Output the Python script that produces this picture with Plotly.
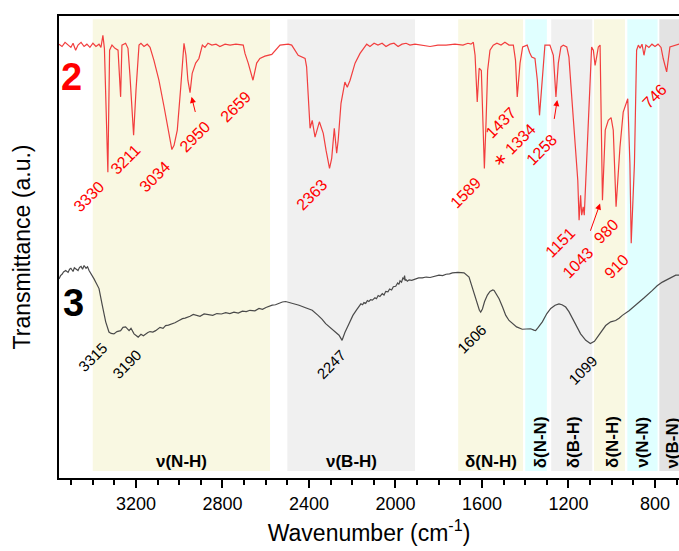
import plotly.graph_objects as go

# ---------------- spectra (wavenumber in cm-1, transmittance in a.u.) ----------------
red_wn = [3556, 3542, 3528, 3514, 3501, 3491, 3479, 3468, 3454, 3440, 3427, 3413, 3399, 3385,
          3371, 3362, 3353, 3346, 3330, 3322, 3311, 3297, 3283, 3271, 3265, 3248, 3237, 3228,
          3211, 3200, 3186, 3177, 3163, 3148, 3135, 3117, 3094, 3070, 3047, 3034, 3024, 3009,
          2993, 2978, 2969, 2960, 2950, 2940, 2924, 2909, 2893, 2881, 2867, 2849, 2830, 2812,
          2788, 2765, 2738, 2704, 2696, 2681, 2659, 2642, 2627, 2604, 2572, 2549, 2534, 2496,
          2480, 2450, 2418, 2411, 2403, 2395, 2385, 2372, 2352, 2334, 2321, 2305, 2295, 2283,
          2272, 2265, 2252, 2241, 2234, 2223, 2210, 2187, 2164, 2133, 2118, 2099, 2081, 2062,
          2044, 2025, 2007, 1988, 1970, 1951, 1933, 1910, 1877, 1840, 1804, 1766, 1725, 1688,
          1665, 1651, 1640, 1632, 1622, 1613, 1603, 1595, 1589, 1581, 1574, 1563, 1548, 1531,
          1512, 1494, 1475, 1455, 1445, 1437, 1424, 1412, 1391, 1380, 1370, 1355, 1344, 1334,
          1321, 1309, 1286, 1270, 1258, 1247, 1235, 1224, 1208, 1198, 1185, 1170, 1157, 1151,
          1144, 1139, 1132, 1127, 1116, 1105, 1093, 1085, 1077, 1070, 1062, 1054, 1048, 1043,
          1030, 1016, 1003, 993, 980, 962, 947, 926, 916, 910, 895, 885, 877, 869, 860, 851,
          842, 828, 814, 800, 786, 772, 762, 746, 731, 708, 689, 675]
red_t = [93.9, 93.4, 94.3, 93.7, 93.2, 94.1, 92.6, 93.7, 94.3, 93.4, 93.9, 93.2, 94.1, 93.4,
         93.9, 93.2, 95.8, 93.0, 66.2, 92.6, 93.7, 93.0, 92.6, 82.5, 93.7, 94.1, 93.0, 87.2,
         74.2, 83.9, 93.7, 94.1, 93.4, 93.9, 93.2, 90.4, 86.1, 80.3, 74.6, 71.1, 72.0, 75.3,
         84.6, 94.1, 91.5, 86.1, 83.4, 87.6, 89.8, 90.8, 93.7, 93.2, 94.1, 93.7, 93.9, 93.4,
         93.9, 93.7, 93.9, 93.7, 91.9, 89.8, 86.1, 89.8, 90.8, 91.3, 91.7, 92.9, 93.7, 93.9,
         93.7, 91.5, 90.8, 89.0, 82.5, 75.7, 77.4, 73.8, 77.1, 74.6, 70.9, 67.0, 69.2, 75.7,
         70.3, 73.1, 81.1, 84.3, 85.7, 84.6, 86.1, 89.8, 91.9, 93.9, 93.4, 94.1, 93.7, 94.1,
         93.4, 93.9, 94.1, 93.4, 93.9, 94.1, 93.7, 93.9, 93.7, 93.4, 93.7, 93.7, 93.9, 93.7,
         94.1, 93.9, 94.3, 91.5, 81.4, 88.7, 88.2, 77.4, 67.0, 77.4, 88.2, 92.6, 93.7, 94.1,
         93.7, 94.3, 93.7, 93.7, 90.4, 82.5, 89.8, 93.3, 93.7, 92.1, 91.1, 90.8, 86.1, 78.5,
         86.1, 93.7, 93.7, 91.5, 82.5, 89.8, 93.3, 93.7, 93.3, 91.1, 82.5, 73.1, 64.4, 55.8,
         61.2, 56.9, 58.7, 56.9, 69.5, 82.5, 93.3, 92.6, 89.3, 91.1, 93.3, 93.7, 75.3, 60.1,
         75.3, 77.4, 78.0, 75.3, 58.7, 71.6, 79.2, 82.1, 68.1, 50.8, 68.1, 92.6, 93.7, 93.0,
         93.9, 91.5, 93.7, 93.2, 93.9, 93.4, 93.9, 93.2, 90.8, 87.9, 93.3, 93.7, 93.9, 93.9]

gray_wn = [3556, 3549, 3542, 3535, 3525, 3514, 3507, 3501, 3491, 3485, 3479, 3468, 3461, 3454,
           3447, 3440, 3431, 3424, 3417, 3406, 3394, 3383, 3371, 3356, 3340, 3325, 3315, 3302,
           3288, 3271, 3260, 3248, 3239, 3232, 3223, 3209, 3190, 3177, 3166, 3155, 3145, 3135,
           3122, 3109, 3089, 3075, 3063, 3050, 3038, 3020, 3001, 2985, 2973, 2960, 2950, 2935,
           2924, 2904, 2885, 2862, 2845, 2826, 2805, 2785, 2766, 2747, 2727, 2708, 2690, 2673,
           2650, 2631, 2615, 2599, 2585, 2570, 2555, 2539, 2523, 2508, 2492, 2479, 2446, 2419,
           2385, 2358, 2340, 2323, 2303, 2290, 2277, 2261, 2247, 2234, 2215, 2197, 2180, 2169,
           2160, 2152, 2146, 2138, 2130, 2123, 2115, 2107, 2095, 2088, 2080, 2072, 2061, 2053,
           2045, 2035, 2027, 2018, 2010, 1999, 1990, 1984, 1979, 1972, 1966, 1961, 1958, 1955,
           1951, 1945, 1937, 1925, 1910, 1893, 1876, 1858, 1840, 1820, 1799, 1782, 1766, 1750,
           1737, 1711, 1683, 1660, 1645, 1631, 1620, 1612, 1606, 1598, 1588, 1575, 1563, 1550,
           1544, 1535, 1521, 1505, 1490, 1475, 1460, 1440, 1414, 1395, 1375, 1360, 1352, 1340,
           1321, 1300, 1282, 1262, 1244, 1230, 1213, 1198, 1182, 1163, 1144, 1120, 1099, 1080,
           1059, 1045, 1028, 1005, 982, 966, 951, 920, 889, 850, 812, 790, 766, 735, 704, 689,
           675]
gray_t = [43.1, 43.8, 44.1, 44.6, 44.9, 44.5, 45.2, 45.4, 44.7, 45.5, 45.3, 44.9, 45.6, 45.8,
          45.2, 46.0, 45.4, 45.7, 44.9, 44.1, 43.1, 42.1, 41.0, 37.4, 33.8, 31.6, 31.3, 31.2,
          31.7, 31.9, 32.6, 32.7, 32.2, 31.9, 32.4, 31.2, 30.5, 31.1, 30.8, 31.2, 31.5, 31.7,
          31.6, 31.9, 32.6, 32.4, 33.0, 33.1, 33.3, 33.6, 34.1, 34.5, 34.6, 34.8, 35.0, 35.4,
          35.2, 35.0, 35.5, 35.4, 35.2, 35.6, 35.5, 35.8, 35.6, 35.9, 35.7, 36.1, 36.0, 36.3,
          36.2, 36.7, 36.5, 36.9, 37.2, 37.4, 37.5, 37.8, 38.1, 38.2, 38.0, 37.8, 37.4, 36.9,
          36.3, 35.2, 34.4, 33.4, 32.6, 32.2, 31.6, 30.9, 29.8, 31.5, 33.4, 35.2, 36.4, 37.2,
          37.7, 37.5, 38.0, 37.8, 38.4, 38.2, 38.6, 38.5, 39.0, 38.8, 39.5, 39.3, 39.9, 39.6,
          40.4, 40.3, 40.9, 40.7, 41.4, 41.5, 42.2, 41.9, 42.7, 42.4, 43.3, 43.1, 43.8, 42.8,
          42.9, 42.6, 42.9, 42.8, 43.1, 43.3, 43.3, 43.5, 43.4, 43.7, 43.9, 43.8, 44.1, 44.2,
          44.4, 44.5, 44.4, 43.5, 41.3, 39.2, 37.4, 36.3, 35.9, 36.6, 38.2, 39.6, 40.4, 40.7,
          40.6, 40.0, 38.8, 37.0, 35.2, 34.1, 33.4, 32.7, 32.2, 32.3, 32.3, 32.0, 31.9, 32.6,
          33.8, 35.6, 36.7, 37.4, 37.7, 37.5, 37.0, 36.0, 34.5, 32.8, 31.2, 29.8, 29.1, 29.6,
          30.9, 31.9, 33.0, 33.8, 34.1, 34.6, 35.2, 36.2, 37.4, 39.0, 40.6, 41.6, 42.4, 43.2,
          43.9, 43.9, 44.0]

# ---------------- assignment bands ----------------
band_start = [3400, 2500, 1710, 1400, 1280, 1082, 928, 780]
band_end = [2580, 1910, 1410, 1300, 1090, 939, 788, 600]
band_color = ["#F9F8E2", "#F0F0F0", "#F9F8E2", "#E0FFFF", "#F0F0F0", "#F9F8E2", "#E0FFFF", "#E3E3E3"]
band_label = ["ν(N-H)", "ν(B-H)", "δ(N-H)", "δ(N-N)", "δ(B-H)", "δ(N-H)", "ν(N-N)", "ν(B-N)"]
band_label_x = [2990, 2205, 1560, 1331, 1179, 1000, 855, 717]
band_label_angle = [0, 0, 0, -90, -90, -90, -90, -90]

# ---------------- peak labels ----------------
red_peaks = ["3330", "3211", "3034", "2950", "2659", "2363", "1589", "1437",
             "∗ 1334", "1258", "1151", "1043", "980", "910", "746"]
red_peak_x = [3318, 3151, 3012, 2827, 2638, 2286, 1574, 1412, 1324, 1223, 1140, 1056, 941, 894, 719]
red_peak_y = [65.6, 73.6, 69.9, 78.6, 85.0, 66.0, 66.4, 81.6, 77.9, 75.7, 55.6, 51.3, 57.3, 49.8, 86.6]
gray_peaks = ["3315", "3190", "2247", "1606", "1099"]
gray_peak_x = [3308, 3151, 2203, 1556, 1042]
gray_peak_y = [30.6, 29.1, 28.9, 34.5, 27.8]

# arrows: (head wn, head T, tail wn, tail T)
arrows = [(2943, 82.5, 2924, 78.9), (1252, 81.8, 1267, 77.4), (1054, 59.4, 1101, 53.2)]

RED_LINE = "#F23E3E"
GRAY_LINE = "#4A4A4A"
FONT = "Liberation Sans, Arial, sans-serif"

fig = go.Figure()
fig.add_trace(go.Scatter(x=red_wn, y=red_t, mode="lines",
                         line=dict(color=RED_LINE, width=1.2), showlegend=False))
fig.add_trace(go.Scatter(x=gray_wn, y=gray_t, mode="lines",
                         line=dict(color=GRAY_LINE, width=1.2), showlegend=False))

shapes = []
for s, e, c in zip(band_start, band_end, band_color):
    shapes.append(dict(type="rect", xref="x", yref="y", x0=s, x1=e, y0=1.5, y1=99.3,
                       fillcolor=c, line=dict(width=0), layer="below"))

annotations = []
for lab, lx, ang in zip(band_label, band_label_x, band_label_angle):
    if ang == 0:
        annotations.append(dict(x=lx, y=3.6, xref="x", yref="y", text="<b>%s</b>" % lab,
                                showarrow=False, xanchor="center", yanchor="middle",
                                font=dict(family=FONT, size=17, color="black")))
    else:
        annotations.append(dict(x=lx, y=1.7, xref="x", yref="y", text="<b>%s</b>" % lab,
                                showarrow=False, textangle=ang, xanchor="center",
                                yanchor="bottom", font=dict(family=FONT, size=17, color="black")))

for lab, px, py in zip(red_peaks, red_peak_x, red_peak_y):
    annotations.append(dict(x=px, y=py, xref="x", yref="y", text=lab, showarrow=False,
                            textangle=-45, xanchor="right", yanchor="top",
                            font=dict(family=FONT, size=16, color="#FF0000")))
for lab, px, py in zip(gray_peaks, gray_peak_x, gray_peak_y):
    annotations.append(dict(x=px, y=py, xref="x", yref="y", text=lab, showarrow=False,
                            textangle=-45, xanchor="right", yanchor="top",
                            font=dict(family=FONT, size=15, color="black")))

for hx, hy, tx, ty in arrows:
    annotations.append(dict(x=hx, y=hy, ax=tx, ay=ty, xref="x", yref="y", axref="x", ayref="y",
                            text="", showarrow=True, arrowhead=2, arrowsize=1.2, arrowwidth=1,
                            arrowcolor="#FF0000"))

annotations.append(dict(x=3496, y=86.7, xref="x", yref="y", text="<b>2</b>", showarrow=False,
                        xanchor="center", yanchor="middle",
                        font=dict(family=FONT, size=38, color="#FF0000")))
annotations.append(dict(x=3491, y=37.8, xref="x", yref="y", text="<b>3</b>", showarrow=False,
                        xanchor="center", yanchor="middle",
                        font=dict(family=FONT, size=38, color="black")))

fig.update_layout(
    width=679, height=551,
    margin=dict(l=59, r=0, t=16, b=73),
    paper_bgcolor="white", plot_bgcolor="white",
    shapes=shapes, annotations=annotations,
    font=dict(family=FONT, color="black"),
)
fig.update_xaxes(
    range=[3556, 689], showgrid=False, zeroline=False,
    showline=True, linewidth=2, linecolor="black", mirror=True,
    ticks="outside", ticklen=8, tickwidth=1.5, tickcolor="black",
    tick0=0, dtick=400, tickfont=dict(family=FONT, size=18, color="black"),
    minor=dict(dtick=100, ticks="outside", ticklen=5, tickwidth=1.5, tickcolor="black"),
    title=dict(text="Wavenumber (cm<sup>-1</sup>)", font=dict(family=FONT, size=23), standoff=12),
)
fig.update_yaxes(
    range=[0, 100], showgrid=False, zeroline=False, showticklabels=False, ticks="",
    showline=True, linewidth=2, linecolor="black",
    title=dict(text="Transmittance (a.u.)", font=dict(family=FONT, size=23), standoff=20),
)

fig.write_html("out.html")
